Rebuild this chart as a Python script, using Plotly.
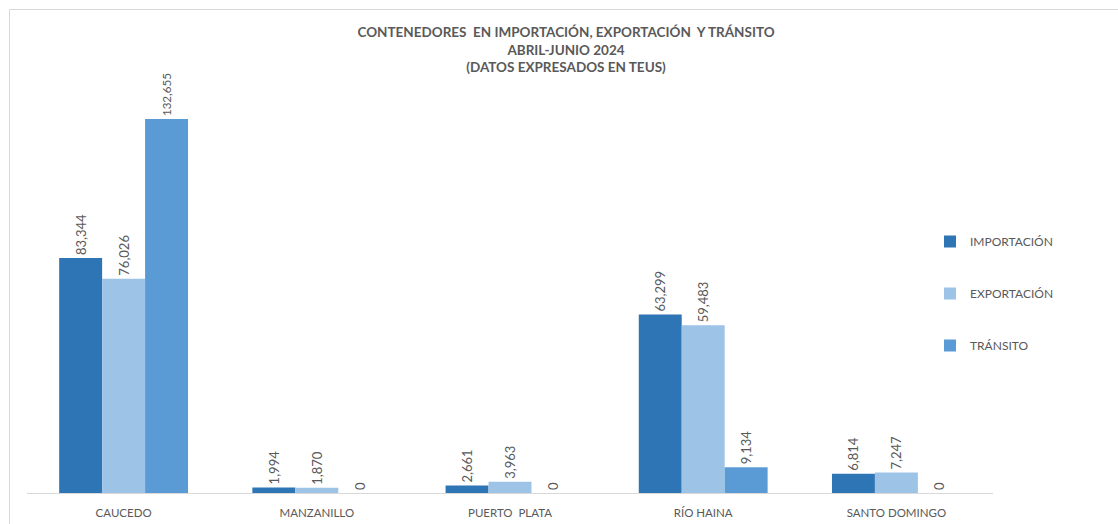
import plotly.graph_objects as go

# datos del gráfico (TEUs, abril-junio 2024)
puertos = ["CAUCEDO", "MANZANILLO", "PUERTO  PLATA", "RÍO HAINA", "SANTO DOMINGO"]
importacion = [83344, 1994, 2661, 63299, 6814]
exportacion = [76026, 1870, 3963, 59483, 7247]
transito = [132655, 0, 0, 9134, 0]

series = [
    ("IMPORTACIÓN", importacion, "#2E75B6"),
    ("EXPORTACIÓN", exportacion, "#9DC3E6"),
    ("TRÁNSITO", transito, "#5B9BD5"),
]

FONT = "Lato, 'Open Sans', sans-serif"
GRAY = "#595959"

fig = go.Figure()
for i, (name, vals, color) in enumerate(series):
    fig.add_trace(go.Bar(
        x=puertos,
        y=vals,
        name=name,
        legendgroup=f"g{i}",
        marker=dict(color=color, line=dict(width=0)),
        texttemplate="%{y:,}",
        textposition="outside",
        textangle=-90,
        textfont=dict(size=13, color=GRAY, family=FONT),
        cliponaxis=False,
        hovertemplate="%{x}<br>" + name + ": %{y:,}<extra></extra>",
    ))

W, H = 1118, 524
ml, mr, mt, mb = 27, 125, 42, 31
pw, ph = W - ml - mr, H - mt - mb


def px_x(p):
    return (p - ml) / pw


def px_y(p):
    return (H - mb - p) / ph


fig.update_layout(
    width=W,
    height=H,
    margin=dict(l=ml, r=mr, t=mt, b=mb),
    paper_bgcolor="white",
    plot_bgcolor="white",
    barmode="group",
    bargap=0.333,
    bargroupgap=0,
    font=dict(family=FONT, color=GRAY, size=11),
    title=dict(
        text="CONTENEDORES  EN IMPORTACIÓN, EXPORTACIÓN  Y TRÁNSITO<br>"
             "ABRIL-JUNIO 2024<br>(DATOS EXPRESADOS EN TEUS)",
        x=566 / W, xref="container", xanchor="center",
        y=1 - 37 / H, yref="container", yanchor="top",
        font=dict(family=FONT, size=13.5, color=GRAY, weight="bold"),
    ),
    xaxis=dict(
        showline=True, linecolor="#D9D9D9", linewidth=1,
        ticks="", showgrid=False, ticklabelstandoff=9, automargin=False,
        tickfont=dict(size=11.5, color=GRAY, family=FONT),
    ),
    yaxis=dict(range=[0, 160000], visible=False),
    legend=dict(
        x=px_x(930), y=px_y(227), xanchor="left", yanchor="top",
        font=dict(size=12, color=GRAY, family=FONT),
        tracegroupgap=33, itemwidth=30,
        bgcolor="rgba(0,0,0,0)",
    ),
    shapes=[dict(
        type="rect", xref="paper", yref="paper",
        x0=px_x(9.5), x1=px_x(1140), y0=px_y(540), y1=px_y(9.5),
        line=dict(color="#D9D9D9", width=1), layer="above",
    )],
)

fig.write_html(
    "out.html",
    config={"displayModeBar": False},
    post_script="document.body.style.margin='0';",
)
